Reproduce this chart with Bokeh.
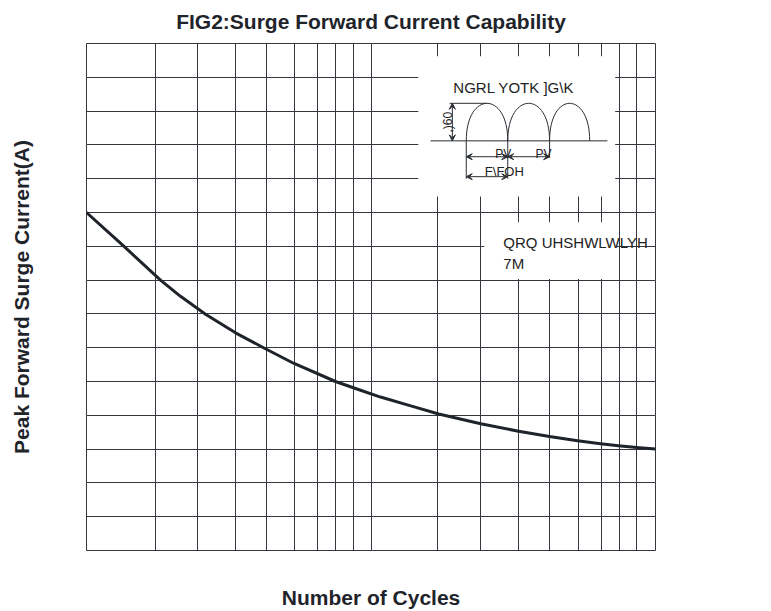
from bokeh.plotting import figure
from bokeh.models import (Range1d, Grid, FixedTicker, Label, Arrow, VeeHead,
                          LinearAxis, LogAxis, LinearScale)
from bokeh.embed import file_html
from bokeh.resources import INLINE

# ---------------- data ----------------
cycles = [1.0, 1.349, 1.82, 2.14, 2.62, 3.34, 4.19, 5.34, 7.50, 9.19, 10.8, 13.8,
          17.3, 24.3, 33.0, 42.4, 53.2, 64.1, 74.1, 85.8, 100.0]
current = [100.0, 90.1, 80.0, 75.2, 69.9, 64.4, 60.0, 55.4, 50.0, 47.4, 45.4, 42.8,
           40.4, 37.5, 35.3, 33.7, 32.5, 31.6, 31.0, 30.5, 30.0]

# grid lines as drawn in the reference (number of cycles, amperes)
grid_x = [1.75, 2.46, 3.34, 4.29, 5.38, 6.49, 7.50, 8.68, 10.0,
          17.1, 24.3, 33.0, 42.4, 53.6, 64.6, 74.7, 85.8]
grid_y = [10, 20, 30, 40, 50, 60, 70, 80, 90, 100, 110, 120, 130, 140]

title_text = "FIG2:Surge Forward Current Capability"
x_label = "Number of Cycles"
y_label = "Peak Forward Surge Current(A)"

# inset schematic (own units: one unit = one grid division)
inset_box_left = [9.76, 11.70]
inset_box_right = [15.55, 15.58]
inset_box_bottom = [10.47, 8.03]
inset_box_top = [14.62, 9.71]

wave_base = 12.12
wave_peak = 13.23
baseline_x = [10.12, 15.32]
arch_start = [11.17, 12.39, 13.62]
arch_end = [12.39, 13.62, 14.80]

height_dim_x = 10.76
height_ext_x = [10.68, 11.76]
ext_x = [11.17, 12.39, 13.62]
ext_bottom = [11.0, 11.0, 11.62]
dim1_y = 11.65
dim2_y = 11.06

inset_texts = ["NGRL YOTK ]G\\K", ",)60", "PV", "PV", "F\\FOH", "QRQ UHSHWLWLYH", "7M"]
inset_text_x = [10.79, 10.62, 12.26, 13.44, 12.29, 12.26, 12.26]
inset_text_y = [13.71, 12.67, 11.74, 11.74, 11.21, 9.12, 8.50]
inset_text_size = ["15px", "12px", "12px", "12px", "13px", "15px", "15px"]
inset_text_align = ["left", "center", "center", "center", "center", "left", "left"]
inset_text_angle = [0, 1.5708, 0, 0, 0, 0, 0]

GRID = "#34383e"
INK = "#1f242b"
ILINE = "#2a2e33"
FONT = "Liberation Sans"

p = figure(width=760, height=611, x_axis_type="log",
           x_range=Range1d(1, 100), y_range=Range1d(0, 150),
           x_axis_location=None, y_axis_location=None,
           output_backend="svg", toolbar_location=None,
           min_border_left=86, min_border_right=105,
           min_border_top=42, min_border_bottom=59,
           background_fill_color="white", border_fill_color="white")
p.extra_x_ranges = {"ix": Range1d(0, 569 / 34)}
p.extra_x_scales = {"ix": LinearScale()}
p.extra_y_ranges = {"iy": Range1d(0, 15)}
p.extra_y_scales = {"iy": LinearScale()}

p.outline_line_color = GRID
p.outline_line_width = 1
p.outline_line_alpha = 1

p.add_layout(Grid(dimension=0, ticker=FixedTicker(ticks=grid_x),
                  grid_line_color=GRID, grid_line_width=1))
p.add_layout(Grid(dimension=1, ticker=FixedTicker(ticks=grid_y),
                  grid_line_color=GRID, grid_line_width=1))

# title
p.title.text = title_text
p.title.align = "center"
p.title.vertical_align = "top"
p.title.text_font = FONT
p.title.text_font_size = "21px"
p.title.text_font_style = "bold"
p.title.text_color = INK
p.title.standoff = 18

# axes carrying only the axis labels
axis_style = dict(axis_line_color=None, major_tick_line_color=None, minor_tick_line_color=None,
                  major_tick_out=0, major_tick_in=0, minor_tick_out=0, minor_tick_in=0,
                  major_label_standoff=0, major_label_text_font_size="0px",
                  axis_label_text_font=FONT, axis_label_text_font_size="21px",
                  axis_label_text_font_style="bold", axis_label_text_color=INK)
xa = LogAxis(ticker=FixedTicker(ticks=[]), axis_label=x_label, axis_label_standoff=35, **axis_style)
ya = LinearAxis(ticker=FixedTicker(ticks=[]), axis_label=y_label, axis_label_standoff=54, **axis_style)
p.add_layout(xa, "below")
p.add_layout(ya, "left")

# curve
p.line(cycles, current, line_width=3, line_color=INK, line_join="round", line_cap="round")

# inset: white boxes hiding the grid
p.quad(left=inset_box_left, right=inset_box_right, bottom=inset_box_bottom, top=inset_box_top,
       fill_color="white", line_color=None, x_range_name="ix", y_range_name="iy")

# baseline
p.line(baseline_x, [wave_base, wave_base], line_color=ILINE, line_width=1,
       x_range_name="ix", y_range_name="iy")
# half-sine arches
hump = wave_base + (wave_peak - wave_base) * 4 / 3
n = len(arch_start)
p.bezier(x0=arch_start, y0=[wave_base] * n, x1=arch_end, y1=[wave_base] * n,
         cx0=arch_start, cy0=[hump] * n, cx1=arch_end, cy1=[hump] * n,
         line_color=ILINE, line_width=1, x_range_name="ix", y_range_name="iy")
# height extension line
p.line(height_ext_x, [wave_peak, wave_peak], line_color=ILINE, line_width=1,
       x_range_name="ix", y_range_name="iy")
# vertical extension lines
p.segment(x0=ext_x, y0=[wave_base] * 3, x1=ext_x, y1=ext_bottom,
          line_color=ILINE, line_width=1, x_range_name="ix", y_range_name="iy")


def dim_arrow(xs, ys, xe, ye):
    p.add_layout(Arrow(x_start=xs, y_start=ys, x_end=xe, y_end=ye,
                       start=VeeHead(size=6, line_color=ILINE, fill_color=ILINE, line_width=1),
                       end=VeeHead(size=6, line_color=ILINE, fill_color=ILINE, line_width=1),
                       line_color=ILINE, line_width=1,
                       x_range_name="ix", y_range_name="iy"))


dim_arrow(height_dim_x, wave_base, height_dim_x, wave_peak)
dim_arrow(ext_x[0], dim1_y, ext_x[1], dim1_y)
dim_arrow(ext_x[1], dim1_y, ext_x[2], dim1_y)
dim_arrow(ext_x[0], dim2_y, ext_x[1], dim2_y)

for t, tx, ty, ts, ta, tang in zip(inset_texts, inset_text_x, inset_text_y,
                                   inset_text_size, inset_text_align, inset_text_angle):
    p.add_layout(Label(x=tx, y=ty, text=t, x_range_name="ix", y_range_name="iy",
                       text_font=FONT, text_font_size=ts, text_color="#222222",
                       text_align=ta, text_baseline="alphabetic" if tang == 0 else "middle",
                       angle=tang))

open("out.html", "w").write(file_html(p, INLINE))
